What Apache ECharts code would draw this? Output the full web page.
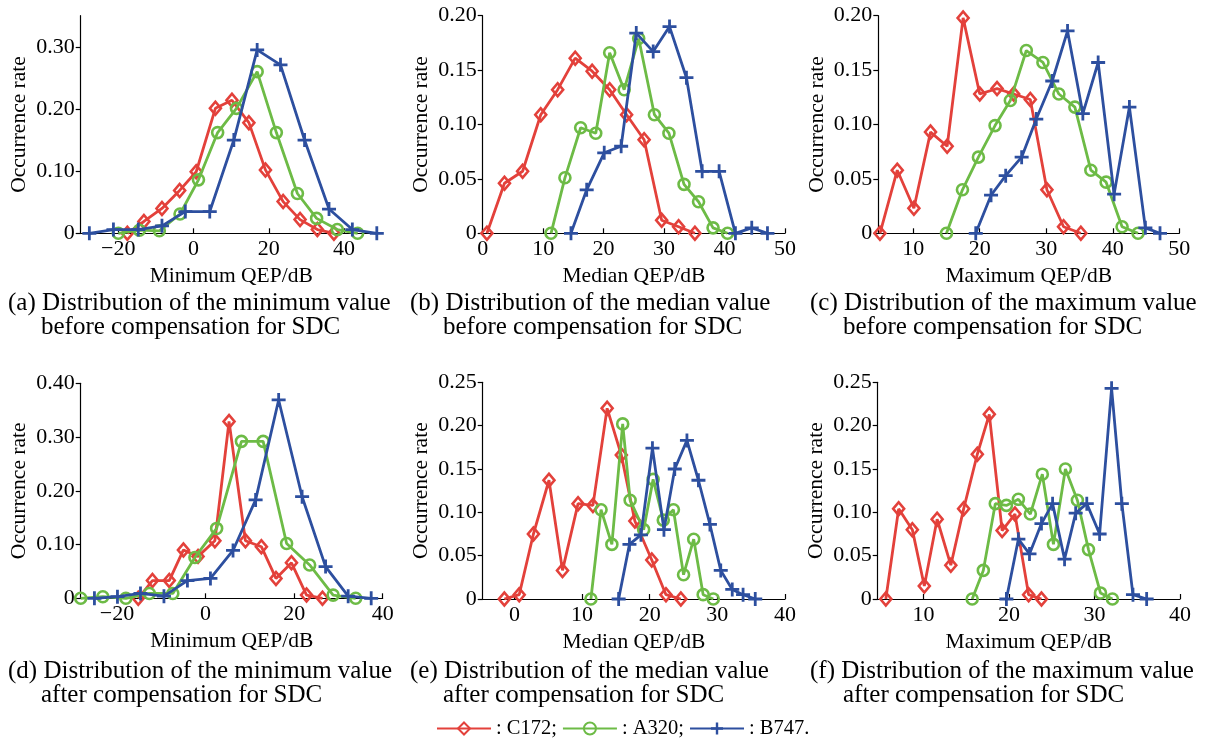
<!DOCTYPE html>
<html>
<head>
<meta charset="utf-8">
<script src="https://cdn.jsdelivr.net/npm/echarts@6/dist/echarts.min.js"></script>
<style>
html,body{margin:0;padding:0;background:#fff;}
#chart{width:1206px;height:741px;}
</style>
</head>
<body>
<div id="chart"></div>
<script>
// ---------- DATA ----------
const seriesNames = ['C172', 'A320', 'B747'];

// (a) minimum value before compensation
const aC172 = [[-17.6,0],[-13.2,0.019],[-8.4,0.040],[-3.7,0.069],[0.7,0.099],[5.8,0.201],[10.2,0.214],[14.7,0.178],[19.1,0.102],[23.8,0.051],[28.3,0.022],[32.9,0.006],[37.3,0]];
const aA320 = [[-20,0],[-14.4,0.005],[-9.1,0.004],[-3.6,0.031],[1.3,0.086],[6.4,0.162],[11.4,0.201],[16.9,0.260],[22.0,0.162],[27.6,0.064],[32.7,0.024],[38.2,0.006],[43.6,0]];
const aB747 = [[-27.7,0],[-21.3,0.006],[-14.7,0.006],[-8.4,0.012],[-2.2,0.035],[4.3,0.035],[10.7,0.150],[16.9,0.295],[23.1,0.271],[29.5,0.150],[36.0,0.039],[42.2,0.006],[48.7,0]];

// (b) median value before compensation
const bC172 = [[0.7,0],[3.6,0.046],[6.6,0.057],[9.6,0.109],[12.4,0.132],[15.3,0.161],[18.1,0.149],[21.0,0.132],[23.8,0.109],[26.7,0.086],[29.6,0.012],[32.4,0.006],[35.1,0]];
const bA320 = [[11.3,0],[13.6,0.051],[16.2,0.097],[18.7,0.092],[21.0,0.166],[23.4,0.132],[25.8,0.179],[28.4,0.109],[30.8,0.092],[33.3,0.045],[35.7,0.029],[38.1,0.005],[40.5,0]];
const bB747 = [[14.6,0],[17.2,0.040],[20.1,0.074],[22.9,0.080],[25.4,0.184],[28.2,0.167],[30.9,0.190],[33.7,0.143],[36.3,0.057],[39.1,0.057],[41.8,0],[44.5,0.005],[47.1,0]];

// (c) maximum value before compensation
const cC172 = [[5.0,0],[7.6,0.058],[10.1,0.023],[12.6,0.093],[15.1,0.080],[17.5,0.198],[20.0,0.128],[22.6,0.133],[25.1,0.128],[27.6,0.123],[30.1,0.040],[32.6,0.006],[35.2,0]];
const cA320 = [[15.0,0],[17.4,0.040],[19.8,0.070],[22.3,0.099],[24.6,0.122],[27.0,0.168],[29.5,0.157],[31.9,0.128],[34.3,0.116],[36.7,0.058],[39.0,0.047],[41.4,0.006],[43.8,0]];
const cB747 = [[19.4,0],[21.7,0.035],[23.9,0.053],[26.3,0.070],[28.5,0.105],[30.9,0.140],[33.2,0.186],[35.5,0.110],[37.8,0.157],[40.2,0.036],[42.5,0.116],[44.9,0.005],[47.1,0]];

// (d) minimum value after compensation
const dC172 = [[-15.2,0],[-12.0,0.033],[-8.2,0.033],[-5.0,0.090],[-1.7,0.078],[2.1,0.107],[5.3,0.329],[9.0,0.107],[12.6,0.096],[15.9,0.037],[19.4,0.066],[22.8,0.006],[26.4,0]];
const dA320 = [[-28.2,0],[-23.2,0.003],[-18.0,0],[-12.7,0.009],[-7.4,0.009],[-2.4,0.076],[2.5,0.130],[8.1,0.292],[13.0,0.292],[18.3,0.102],[23.5,0.062],[28.8,0.006],[33.9,0]];
const dB747 = [[-25.1,0],[-19.9,0.003],[-14.7,0.009],[-9.4,0.004],[-4.1,0.033],[1.1,0.037],[6.2,0.089],[11.3,0.183],[16.5,0.369],[21.8,0.189],[27.1,0.059],[32.2,0.004],[37.4,0]];

// (e) median value after compensation
const eC172 = [[-1.5,0],[0.7,0.005],[2.8,0.075],[5.1,0.137],[7.1,0.033],[9.4,0.110],[11.6,0.108],[13.7,0.220],[15.8,0.166],[17.8,0.090],[20.3,0.045],[22.4,0.005],[24.6,0]];
const eA320 = [[11.3,0],[12.8,0.103],[14.4,0.063],[16.0,0.202],[17.1,0.114],[19.1,0.080],[20.5,0.138],[22.0,0.091],[23.5,0.103],[25.0,0.028],[26.5,0.069],[27.9,0.005],[29.4,0]];
const eB747 = [[15.4,0],[17.0,0.063],[18.7,0.074],[20.4,0.174],[22.1,0.080],[23.7,0.150],[25.5,0.183],[27.2,0.137],[28.9,0.086],[30.5,0.033],[32.2,0.011],[33.8,0.005],[35.6,0]];

// (f) maximum value after compensation
const fC172 = [[5.6,0],[7.1,0.104],[8.7,0.080],[10.1,0.015],[11.6,0.092],[13.2,0.039],[14.7,0.104],[16.3,0.167],[17.7,0.213],[19.2,0.079],[20.7,0.098],[22.3,0.005],[23.8,0]];
const fA320 = [[15.7,0],[17.0,0.033],[18.4,0.110],[19.7,0.108],[21.1,0.115],[22.5,0.098],[23.9,0.144],[25.2,0.063],[26.6,0.150],[28.0,0.114],[29.3,0.057],[30.7,0.007],[32.1,0]];
const fB747 = [[19.7,0],[21.1,0.069],[22.4,0.052],[23.8,0.087],[25.1,0.110],[26.5,0.046],[27.8,0.099],[29.1,0.110],[30.6,0.075],[32.0,0.243],[33.2,0.110],[34.5,0.005],[36.1,0]];

// tick labels
const xTicksA = [-20, 0, 20, 40];
const xTicksB = [0, 10, 20, 30, 40, 50];
const xTicksC = [10, 20, 30, 40, 50];
const xTicksD = [-20, 0, 20, 40];
const xTicksE = [0, 10, 20, 30, 40];
const xTicksF = [10, 20, 30, 40];
const yTicksA = [0, 0.10, 0.20, 0.30];
const yTicksBC = [0, 0.05, 0.10, 0.15, 0.20];
const yTicksD = [0, 0.10, 0.20, 0.30, 0.40];
const yTicksEF = [0, 0.05, 0.10, 0.15, 0.20, 0.25];

const xNames = ['Minimum QEP/dB', 'Median QEP/dB', 'Maximum QEP/dB', 'Minimum QEP/dB', 'Median QEP/dB', 'Maximum QEP/dB'];
const captions = [
  ['(a) Distribution of the minimum value', 'before compensation for SDC'],
  ['(b) Distribution of the median value', 'before compensation for SDC'],
  ['(c) Distribution of the maximum value', 'before compensation for SDC'],
  ['(d) Distribution of the minimum value', 'after compensation for SDC'],
  ['(e) Distribution of the median value', 'after compensation for SDC'],
  ['(f) Distribution of the maximum value', 'after compensation for SDC']
];

// ---------- LAYOUT / STYLE ----------
const FONT = 'Liberation Serif';
const colors = { C172: '#E3413B', A320: '#6DBB46', B747: '#2D4F9F' };
const plusPath = 'path://M4,0 H6 V4 H10 V6 H6 V10 H4 V6 H0 V4 H4 Z';

const panels = [
  { grid: {left: 80.7, top: 15.7, width: 301, height: 217.6}, x: [-30, 50], xt: xTicksA, y: [0, 0.35], yt: yTicksA, data: [aC172, aA320, aB747] },
  { grid: {left: 482.7, top: 15.7, width: 302.3, height: 217.6}, x: [0, 50], xt: xTicksB, y: [0, 0.20], yt: yTicksBC, data: [bC172, bA320, bB747] },
  { grid: {left: 878.3, top: 15.7, width: 301, height: 217.6}, x: [4.75, 50], xt: xTicksC, y: [0, 0.20], yt: yTicksBC, data: [cC172, cA320, cB747] },
  { grid: {left: 80.7, top: 383.3, width: 302, height: 215}, x: [-28.2, 40], xt: xTicksD, y: [0, 0.40], yt: yTicksD, data: [dC172, dA320, dB747] },
  { grid: {left: 482.7, top: 382.3, width: 302.3, height: 216.7}, x: [-4.7, 40], xt: xTicksE, y: [0, 0.25], yt: yTicksEF, data: [eC172, eA320, eB747] },
  { grid: {left: 877.7, top: 382.3, width: 302.3, height: 216.7}, x: [4.65, 40], xt: xTicksF, y: [0, 0.25], yt: yTicksEF, data: [fC172, fA320, fB747] }
];
const captionPos = [[8, 303], [410, 303], [810, 303], [8, 671], [410, 671], [810, 671]];

const grids = [], xAxes = [], yAxes = [], series = [], graphics = [];
panels.forEach((p, i) => {
  grids.push(Object.assign({ containLabel: false }, p.grid));
  xAxes.push({
    type: 'value', gridIndex: i, min: p.x[0], max: p.x[1],
    name: xNames[i], nameLocation: 'middle', nameGap: 32,
    nameTextStyle: { fontFamily: FONT, fontSize: 21.5, color: '#000' },
    axisLine: { show: true, onZero: false, lineStyle: { color: '#000', width: 1.2 } },
    axisTick: { show: true, inside: true, length: 5, customValues: p.xt, lineStyle: { color: '#000', width: 1.2 } },
    axisLabel: { customValues: p.xt, margin: 5, fontFamily: FONT, fontSize: 22, color: '#000',
                 formatter: v => (v < 0 ? '\u2212' + Math.abs(v) : String(v)) },
    splitLine: { show: false }
  });
  yAxes.push({
    type: 'value', gridIndex: i, min: p.y[0], max: p.y[1],
    name: 'Occurrence rate', nameLocation: 'middle', nameGap: 50, nameRotate: 90,
    nameTextStyle: { fontFamily: FONT, fontSize: 21.5, color: '#000' },
    axisLine: { show: true, onZero: false, lineStyle: { color: '#000', width: 1.2 } },
    axisTick: { show: true, inside: false, length: 5, customValues: p.yt, lineStyle: { color: '#000', width: 1.2 } },
    axisLabel: { customValues: p.yt, margin: 6, fontFamily: FONT, fontSize: 22, color: '#000',
                 formatter: v => (v === 0 ? '0' : v.toFixed(2)) },
    splitLine: { show: false }
  });
  p.data.forEach((d, k) => {
    const name = seriesNames[k];
    const c = colors[name];
    const s = {
      name: name, type: 'line', xAxisIndex: i, yAxisIndex: i, data: d,
      clip: false, animation: false,
      lineStyle: { color: c, width: 2.8 },
      itemStyle: { color: c },
      z: 2 + k
    };
    if (name === 'C172') {
      s.symbol = 'diamond'; s.symbolSize = [11, 13];
      s.itemStyle = { color: 'rgba(255,255,255,0)', borderColor: c, borderWidth: 2.6 };
    } else if (name === 'A320') {
      s.symbol = 'circle'; s.symbolSize = 11;
      s.itemStyle = { color: 'rgba(255,255,255,0)', borderColor: c, borderWidth: 2.6 };
    } else {
      s.symbol = plusPath; s.symbolSize = 14;
      s.itemStyle = { color: c, borderWidth: 0 };
    }
    series.push(s);
  });
  const cp = captionPos[i];
  graphics.push({ type: 'text', x: cp[0], y: cp[1], style: { text: captions[i][0], font: '25px "' + FONT + '"', fill: '#000', verticalAlign: 'middle' } });
  graphics.push({ type: 'text', x: cp[0] + 33, y: cp[1] + 24, style: { text: captions[i][1], font: '25px "' + FONT + '"', fill: '#000', verticalAlign: 'middle' } });
});

const chart = echarts.init(document.getElementById('chart'), null, { renderer: 'canvas' });
chart.setOption({
  animation: false,
  backgroundColor: '#fff',
  grid: grids,
  xAxis: xAxes,
  yAxis: yAxes,
  series: series,
  graphic: graphics,
  legend: {
    data: seriesNames, left: 436, top: 718, padding: 0, itemWidth: 54, itemHeight: 15, itemGap: 5,
    selectedMode: false,
    formatter: n => ': ' + n + (n === 'B747' ? '.' : ';'),
    textStyle: { fontFamily: FONT, fontSize: 20.5, color: '#000', padding: 0 }
  }
});
</script>
</body>
</html>
